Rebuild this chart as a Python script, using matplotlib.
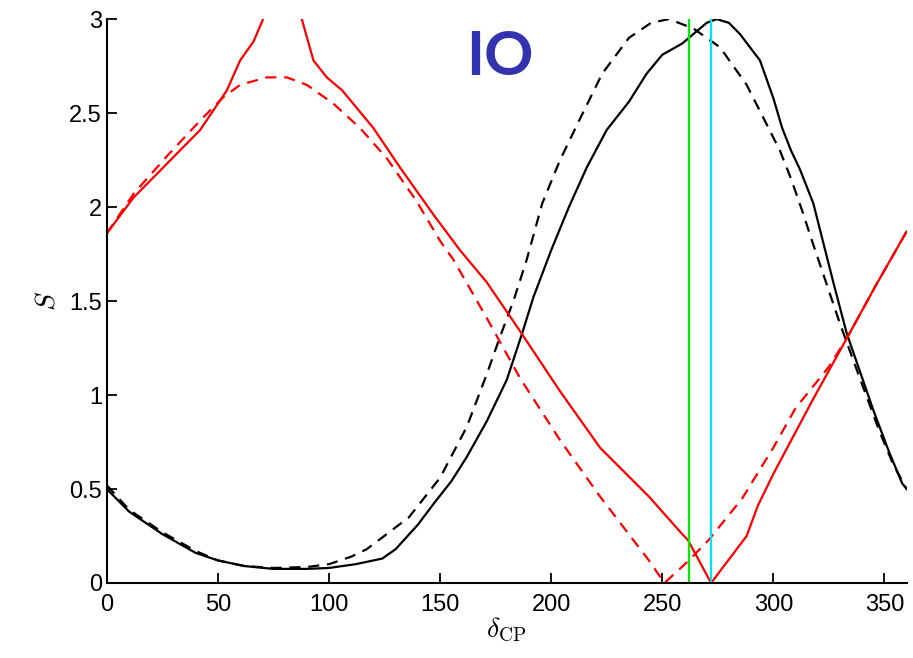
import numpy as np
import matplotlib
matplotlib.use('Agg')
from matplotlib import pyplot as plt

plt.rcParams['font.family'] = ['Liberation Sans', 'DejaVu Sans']
plt.rcParams['mathtext.fontset'] = 'cm'

# black solid
bs_x = [0, 10, 25, 40, 50, 62, 75, 90, 100, 112, 124, 130, 140, 147, 155, 162, 171, 180, 187,
        192, 200, 208, 216, 225, 235, 243, 250, 259, 264, 270, 274.5, 280, 285, 294, 300, 304,
        308, 312, 318, 321, 327, 333, 345, 352, 358, 360]
bs_y = [0.50, 0.38, 0.26, 0.16, 0.12, 0.09, 0.075, 0.075, 0.08, 0.10, 0.13, 0.18, 0.31, 0.42,
        0.54, 0.67, 0.86, 1.08, 1.33, 1.52, 1.77, 2.00, 2.21, 2.41, 2.56, 2.71, 2.81, 2.87, 2.92,
        2.98, 3.00, 2.98, 2.92, 2.78, 2.58, 2.42, 2.30, 2.20, 2.02, 1.88, 1.60, 1.33, 0.92, 0.70,
        0.53, 0.50]

# black dashed
bd_x = [0, 10, 25, 40, 50, 62, 75, 90, 100, 110, 117, 126, 136, 150, 162, 171, 177, 183, 189,
        196, 204, 213, 223, 235, 245, 253, 264, 276, 288, 297, 303, 308, 313, 318, 324, 330, 338,
        348, 354, 360]
bd_y = [0.52, 0.39, 0.27, 0.17, 0.12, 0.09, 0.08, 0.085, 0.10, 0.14, 0.18, 0.26, 0.35, 0.56,
        0.83, 1.11, 1.31, 1.50, 1.72, 2.02, 2.25, 2.47, 2.71, 2.90, 2.98, 3.00, 2.95, 2.85, 2.65,
        2.44, 2.30, 2.15, 1.98, 1.80, 1.59, 1.38, 1.12, 0.80, 0.63, 0.50]

# red solid
rs_x = [0, 12, 27, 42, 54, 60, 66, 70, 74, 80, 85, 88, 93, 99, 106, 120, 132, 147, 159, 171,
        186, 204, 222, 244, 259, 261.5, 272, 288, 293, 300, 318, 333, 346, 360]
rs_y = [1.86, 2.05, 2.23, 2.41, 2.62, 2.78, 2.88, 2.99, 3.15, 3.30, 3.15, 2.99, 2.78, 2.69, 2.62,
        2.42, 2.21, 1.96, 1.77, 1.60, 1.34, 1.02, 0.72, 0.46, 0.26, 0.23, 0.0, 0.25, 0.41, 0.58,
        0.98, 1.30, 1.58, 1.87]

# red dashed
rd_x = [0, 12, 27, 42, 52, 60, 72, 81, 90, 102, 114, 126, 139.5, 150, 156, 171, 186, 204, 222,
        244, 251, 262, 271, 286, 300, 310, 325, 333, 346, 360]
rd_y = [1.86, 2.07, 2.27, 2.46, 2.58, 2.65, 2.69, 2.69, 2.65, 2.55, 2.42, 2.26, 2.03, 1.82, 1.72,
        1.41, 1.09, 0.76, 0.46, 0.12, 0.0, 0.12, 0.23, 0.45, 0.72, 0.93, 1.15, 1.30, 1.58, 1.87]

green_x = 262
cyan_x = 272

fig = plt.figure(figsize=(9.13, 6.58), dpi=100)
ax = fig.add_axes([0.117, 0.114, 0.876, 0.857])

ax.plot(bs_x, bs_y, color='black', lw=1.6)
ax.plot(bd_x, bd_y, color='black', lw=1.6, dashes=(5, 3.5))
ax.plot(rs_x, rs_y, color='red', lw=1.6)
ax.plot(rd_x, rd_y, color='red', lw=1.6, dashes=(5, 3.5))
ax.plot([green_x, green_x], [0, 3], color='#00ee00', lw=1.6)
ax.plot([cyan_x, cyan_x], [0, 3], color='#00e5ee', lw=1.6)

ax.set_xlim(0, 360)
ax.set_ylim(0, 3)
ax.set_xticks(np.arange(0, 351, 50))
ax.set_yticks([0, 0.5, 1, 1.5, 2, 2.5, 3])
ax.set_yticklabels(['0', '0.5', '1', '1.5', '2', '2.5', '3'])
ax.tick_params(direction='in', length=7, width=1.3, labelsize=17, colors='black')
ax.tick_params(axis='x', pad=8)
for s in ['top', 'right']:
    ax.spines[s].set_visible(False)
for s in ['left', 'bottom']:
    ax.spines[s].set_linewidth(1.5)

ax.set_xlabel(r'$\delta_{\rm CP}$', fontsize=20, labelpad=0)
ax.set_ylabel(r'$S$', fontsize=20, labelpad=6)

ax.text(177, 2.80, 'IO', color='#3333b0', fontsize=44, fontweight='bold',
        family='Lato', ha='center', va='center')

fig.savefig('out.png', dpi=100)
